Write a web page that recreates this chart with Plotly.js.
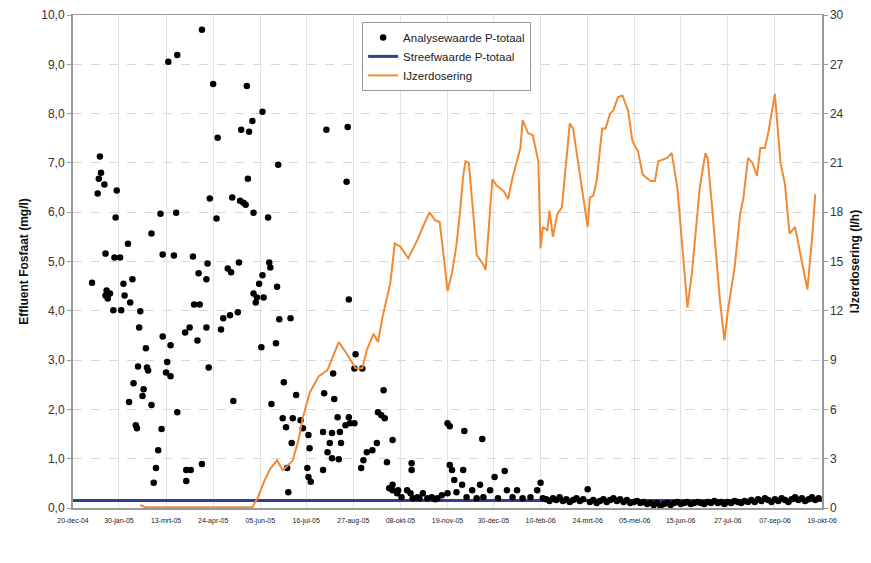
<!DOCTYPE html>
<html>
<head>
<meta charset="utf-8">
<script src="https://cdn.plot.ly/plotly-3.0.1.min.js"></script>
<style>
html,body{margin:0;padding:0;background:#fff;}
#chart{width:871px;height:563px;}
</style>
</head>
<body>
<div id="chart"></div>
<script>
// X axis: days since 20-dec-04
const tickDays = [0, 41, 83, 125, 167, 208, 250, 292, 334, 375, 417, 459, 501, 542, 584, 626, 668];
const tickLabels = ['20-dec-04','30-jan-05','13-mrt-05','24-apr-05','05-jun-05','16-jul-05','27-aug-05','08-okt-05','19-nov-05','30-dec-05','10-feb-06','24-mrt-06','05-mei-06','15-jun-06','27-jul-06','07-sep-06','19-okt-06'];

// Analysewaarde P-totaal (mg/l)
const analysisDay = [17,24,25,23,28,22,29,29,30,33,31,36,37,42,39,38,43,45,46,53,51,49,60,59,65,58,66,67,54,63,62,50,70,56,57,79,76,74,72,70,78,80,80,87,84,83,87,93,85,93,92,90,101,101,105,115,115,107,100,104,108,113,111,112,119,120,119,121,122,125,129,128,132,134,138,141,140,143,147,148,142,149,152,154,150,157,160,155,169,156,161,174,175,176,169,166,161,164,163,170,182,183,184,194,168,181,177,188,199,187,190,196,203,205,210,211,195,191,209,210,212,192,223,224,233,236,238,231,223,229,239,227,231,237,232,226,245,244,246,252,251,258,246,247,243,251,257,259,262,267,271,277,272,275,278,285,280,282,285,285,289,290,293,298,301,303,302,302,307,309,312,316,320,323,325,329,334,334,336,349,365,336,338,340,342,347,348,351,356,360,363,366,372,376,379,385,387,392,396,401,408,414,417,419,
422,425,428,431,434,437,440,443,446,449,452,455,459,461,464,467,470,473,476,479,482,485,488,491,494,497,500,503,506,509,512,515,518,521,524,527,530,533,536,539,542,545,548,551,554,557,560,563,566,569,572,575,578,581,584,587,590,593,596,599,602,605,608,611,614,617,620,623,626,629,632,635,638,641,644,647,650,653,656,659,662,665];
const analysisValue = [4.57,7.13,6.80,6.68,6.56,6.38,5.16,4.31,4.41,4.35,4.25,4.01,5.08,5.08,6.44,5.89,4.01,4.55,4.31,4.64,4.17,5.36,3.99,3.66,3.24,2.87,2.85,2.79,2.53,2.41,2.27,2.15,2.09,1.68,1.62,1.60,1.17,0.81,0.51,5.57,5.97,5.14,3.48,3.30,2.96,2.75,2.67,1.94,9.05,9.19,5.99,5.12,0.55,0.77,0.77,0.89,9.70,5.10,3.56,3.66,4.13,4.13,3.40,4.76,4.64,4.96,3.66,2.85,6.28,8.60,7.51,5.87,3.62,3.85,4.86,4.78,3.91,2.17,3.97,4.98,6.30,6.23,6.19,6.15,7.67,7.63,7.85,8.56,8.04,6.68,5.99,5.89,4.98,4.88,4.72,4.55,4.35,4.27,4.17,4.27,4.49,6.96,3.83,3.85,3.26,3.34,2.11,2.55,2.29,1.82,1.64,1.82,1.78,1.62,1.48,1.21,1.32,0.81,0.81,0.63,0.53,0.32,0.77,2.33,2.21,1.84,1.54,1.52,1.54,1.32,1.32,1.13,1.01,0.99,2.73,7.67,7.73,6.62,4.23,3.12,2.83,2.83,1.84,1.72,1.68,1.72,0.81,0.97,1.13,1.17,1.32,2.39,1.94,1.88,1.82,1.38,0.93,0.40,0.47,0.36,0.30,0.36,0.22,0.36,0.30,0.20,0.91,0.77,0.22,0.20,0.30,0.20,0.22,0.18,0.20,0.26,0.30,1.72,1.66,1.56,1.40,0.87,0.77,0.57,0.32,0.47,0.77,0.22,0.36,0.20,0.47,0.22,0.36,0.63,0.20,0.75,0.36,0.22,0.36,0.20,0.22,0.36,0.51,0.20,
0.18,0.14,0.20,0.16,0.22,0.14,0.18,0.12,0.16,0.20,0.14,0.18,0.38,0.12,0.16,0.10,0.14,0.18,0.12,0.16,0.20,0.14,0.18,0.12,0.16,0.10,0.12,0.14,0.10,0.12,0.08,0.10,0.06,0.10,0.04,0.08,0.10,0.06,0.10,0.12,0.08,0.10,0.12,0.08,0.10,0.12,0.10,0.08,0.12,0.10,0.14,0.10,0.12,0.08,0.12,0.10,0.14,0.12,0.10,0.14,0.12,0.16,0.12,0.18,0.14,0.20,0.16,0.12,0.18,0.14,0.20,0.16,0.12,0.18,0.22,0.16,0.20,0.14,0.18,0.22,0.16,0.20];

// Streefwaarde P-totaal (mg/l)
const targetDay = [0, 668];
const targetValue = [0.15, 0.15];

// IJzerdosering (l/h)
const dosingDay = [60,64,160,165,171,176,182,187,191,196,201,205,211,219,227,232,237,244,252,258,262,268,272,276,283,287,292,299,307,312,318,323,327,331,334,338,342,345,348,350,353,357,360,366,368,371,374,378,384,388,392,399,401,406,410,415,417,419,423,425,428,432,436,441,443,446,452,457,459,461,464,467,472,475,479,482,486,490,491,495,499,504,508,515,519,522,530,534,539,543,548,552,559,564,566,570,574,577,581,584,590,595,598,602,606,610,613,617,620,626,631,635,639,644,648,655,659,662];
const dosingValue = [0.18,0.06,0.05,0.67,1.7,2.4,2.9,2.3,2.55,2.9,4.1,5.5,7.0,8.0,8.4,9.2,10.1,9.4,8.5,8.5,9.6,10.6,10.1,11.6,13.7,16.1,15.9,15.2,16.3,17.1,18.0,17.5,17.4,15.1,13.2,14.3,16.0,17.9,20.2,21.1,21.0,17.9,15.4,14.8,14.5,17.2,20.0,19.6,19.3,18.8,20.1,21.9,23.6,22.8,22.7,21.1,15.8,17.1,16.9,18.1,16.5,17.9,18.3,21.9,23.4,23.1,20.3,18.1,17.1,18.9,19.0,19.9,23.1,23.1,24.0,24.2,25.0,25.1,24.9,24.2,22.3,21.7,20.3,19.9,19.9,21.1,21.3,21.6,19.5,16.3,12.2,14.3,19.5,21.6,21.3,18.3,15.2,12.6,10.2,12.0,14.6,17.9,18.9,21.3,21.0,20.2,21.9,21.9,22.8,25.2,21.0,19.7,16.7,17.1,15.7,13.3,16.3,19.1];

const FONT = 'Liberation Sans, Arial, sans-serif';

const traces = [
  {
    x: targetDay, y: targetValue, type: 'scatter', mode: 'lines',
    name: 'Streefwaarde P-totaal', legendrank: 2,
    line: {color: '#333d99', width: 3}, yaxis: 'y', hoverinfo: 'skip'
  },
  {
    x: analysisDay, y: analysisValue, type: 'scatter', mode: 'markers',
    name: 'Analysewaarde P-totaal', legendrank: 1,
    marker: {color: '#000000', size: 6.5, symbol: 'circle'}, yaxis: 'y'
  },
  {
    x: dosingDay, y: dosingValue, type: 'scatter', mode: 'lines',
    name: 'IJzerdosering', legendrank: 3,
    line: {color: '#f28a34', width: 2}, yaxis: 'y2'
  }
];

const layout = {
  width: 871, height: 563,
  margin: {l: 73, r: 49, t: 15, b: 55, pad: 0},
  paper_bgcolor: '#ffffff', plot_bgcolor: '#ffffff',
  separators: ',.',
  font: {family: FONT, color: '#222', size: 12},
  showlegend: true,
  legend: {
    x: 0.386, y: 0.986, xanchor: 'left', yanchor: 'top',
    bgcolor: '#ffffff', bordercolor: '#999', borderwidth: 1,
    font: {family: FONT, size: 11.5, color: '#222'},
    tracegroupgap: 0, itemwidth: 30
  },
  xaxis: {
    range: [0, 668], tickmode: 'array', tickvals: tickDays, ticktext: tickLabels,
    tickfont: {family: FONT, size: 7, color: '#222'}, tickangle: 0,
    showgrid: true, gridcolor: '#e3e3e3', gridwidth: 1,
    showline: true, linecolor: '#9a9a9a', linewidth: 1.5, mirror: true,
    zeroline: false, ticks: 'outside', ticklen: 5, tickcolor: 'rgba(0,0,0,0)', automargin: false
  },
  yaxis: {
    range: [0, 10], tickmode: 'linear', tick0: 0, dtick: 1, tickformat: '.1f',
    tickfont: {family: FONT, size: 12, color: '#333'},
    showgrid: true, gridcolor: '#d8d8d8', griddash: 'dash', gridwidth: 1,
    showline: true, linecolor: '#9a9a9a', linewidth: 2,
    ticks: 'outside', ticklen: 4, tickcolor: '#9a9a9a',
    zeroline: false, automargin: false,
    title: {text: 'Effluent Fosfaat (mg/l)', standoff: 10, font: {family: FONT, size: 12, weight: 'bold', color: '#111'}}
  },
  yaxis2: {
    overlaying: 'y', side: 'right', anchor: 'x',
    range: [0, 30], tickmode: 'linear', tick0: 0, dtick: 3,
    tickfont: {family: FONT, size: 12, color: '#333'},
    showgrid: false, showline: true, linecolor: '#9a9a9a', linewidth: 1.5,
    ticks: 'outside', ticklen: 4, tickcolor: '#9a9a9a',
    zeroline: false, automargin: false,
    title: {text: 'IJzerdosering (l/h)', standoff: 8, font: {family: FONT, size: 12, weight: 'bold', color: '#111'}}
  }
};

Plotly.newPlot('chart', traces, layout, {displayModeBar: false, staticPlot: true});
</script>
</body>
</html>
